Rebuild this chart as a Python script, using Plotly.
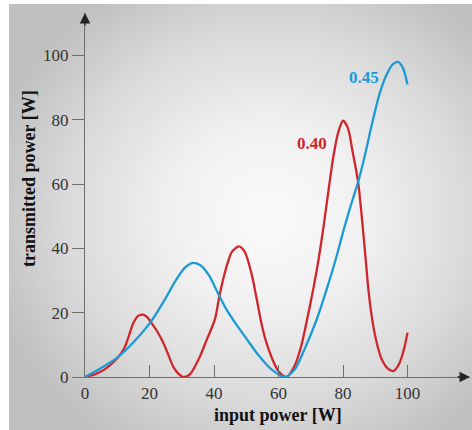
import base64
import plotly.graph_objects as go

# ---- data ----
red_label = "0.40"
red_x = [0, 3, 6, 9, 12, 13.5, 15, 16.5, 17.9, 19.3, 20.5, 22.5, 24.2, 26, 27.3, 28.8, 30.4,
         32.5, 35.6, 37.5, 40.3, 41.5, 43, 44.2, 45.6, 47.7, 49.5, 51.6, 53, 54.7, 56, 57.8, 60, 62.5,
         65, 67, 69, 71, 72.5, 74, 75.5, 77, 78.5, 80, 81.5, 83, 84.7, 86, 87, 88, 89.2,
         90.5, 92, 94, 95.7, 97.5, 99, 100]
red_y = [0, 0.8, 2.3, 4.8, 8.6, 12.5, 16.8, 19.0, 19.4, 18.6, 17.0, 14.0, 10.8, 6.5, 3.3, 1.2, 0,
         0.8, 6.3, 11.0, 18.0, 24.3, 31.0, 35.4, 39.0, 40.6, 39.0, 32.3, 25.5, 16.7, 11.5, 6.3, 1.8, 0,
         3.5, 9.5, 18.5, 28.5, 37.0, 47.0, 58.0, 68.5, 76.0, 79.7, 77.5, 70.0, 60.5, 48.0, 37.0, 26.0, 17.0,
         10.5, 5.5, 2.5, 1.9, 4.3, 9.0, 13.8]

blue_label = "0.45"
blue_x = [0, 5, 10, 15, 20.5, 25, 28, 31, 33.5, 36, 38.5, 41.5, 44, 47, 50, 54, 58, 62,
          65, 68, 71.7, 75, 78, 80, 82, 84.7, 86.8, 88.8, 91.4, 93.5, 95.5, 97, 98.5, 100]
blue_y = [0, 2.8, 6.0, 10.8, 17.3, 24.5, 29.8, 34.0, 35.5, 34.6, 31.5, 25.5, 20.8, 16.2, 12.0, 6.5, 2.2, 0,
          2.3, 8.5, 17.5, 27.5, 37.5, 45.0, 52.0, 60.7, 69.0, 77.9, 88.3, 94.0, 97.3, 98.0, 96.3, 91.0]

x_ticks = [0, 20, 40, 60, 80, 100]
y_ticks = [0, 20, 40, 60, 80, 100]
x_title = "input power [W]"
y_title = "transmitted power [W]"

RED = "#cf262c"
BLUE = "#1b9ad6"
SERIF = "Liberation Serif"

W, H = 472, 430
ML, MR, MT, MB = 85, 2, 13, 53
pw, ph = W - ML - MR, H - MT - MB
xmax = pw / 3.225
ymax = ph / 3.215

# radial gradient background panel as an SVG image
svg = (
    '<svg xmlns="http://www.w3.org/2000/svg" width="463" height="426" viewBox="0 0 463 426" preserveAspectRatio="none">'
    '<defs><radialGradient id="g" cx="0.56" cy="0.5" r="0.62" fx="0.56" fy="0.5">'
    '<stop offset="0" stop-color="#fbfbfb"/>'
    '<stop offset="0.35" stop-color="#f0f0f0"/>'
    '<stop offset="0.7" stop-color="#dadada"/>'
    '<stop offset="1" stop-color="#c0c0c0"/>'
    '</radialGradient></defs>'
    '<rect x="0" y="0" width="463" height="426" fill="url(#g)"/></svg>'
)
src = "data:image/svg+xml;base64," + base64.b64encode(svg.encode()).decode()

fig = go.Figure()
fig.add_trace(go.Scatter(x=red_x, y=red_y, mode="lines", name=red_label,
                         line=dict(color=RED, width=2.3, shape="spline", smoothing=0.8)))
fig.add_trace(go.Scatter(x=blue_x, y=blue_y, mode="lines", name=blue_label,
                         line=dict(color=BLUE, width=2.3, shape="spline", smoothing=0.8)))

# panel image position in paper coords
px0, py0, pwid, phei = 9, 4, 463, 426
fig.add_layout_image(dict(
    source=src, xref="paper", yref="paper",
    x=(px0 - ML) / pw, y=(H - MB - py0) / ph,
    sizex=pwid / pw, sizey=phei / ph,
    xanchor="left", yanchor="top", sizing="stretch", layer="below"))

axis_col = "#6e6e6e"
fig.update_layout(
    width=W, height=H,
    margin=dict(l=ML, r=MR, t=MT, b=MB),
    paper_bgcolor="white", plot_bgcolor="rgba(0,0,0,0)",
    showlegend=False,
    font=dict(family=SERIF, size=17, color="#333333"),
    xaxis=dict(range=[0, xmax], tickvals=x_ticks, ticks="inside", ticklen=12, tickwidth=1.2,
               tickcolor=axis_col, showline=True, linecolor=axis_col, linewidth=1.4, automargin=False,
               showgrid=False, zeroline=False, tickfont=dict(family=SERIF, size=17, color="#333")),
    yaxis=dict(range=[0, ymax], tickvals=y_ticks, ticks="outside", ticklen=12, tickwidth=1.2,
               tickcolor=axis_col, showline=True, linecolor=axis_col, linewidth=1.4, automargin=False,
               showgrid=False, zeroline=False, tickfont=dict(family=SERIF, size=17, color="#333")),
    annotations=[
        dict(x=xmax, y=0, xref="x", yref="y", ax=-14, ay=0, text="", showarrow=True,
             arrowhead=2, arrowsize=1.5, arrowwidth=1.4, arrowcolor="#222"),
        dict(x=0, y=ymax, xref="x", yref="y", ax=0, ay=14, text="", showarrow=True,
             arrowhead=2, arrowsize=1.5, arrowwidth=1.4, arrowcolor="#222"),
        dict(x=(278 - ML) / pw, y=-(415 - (H - MB)) / ph, xref="paper", yref="paper",
             xanchor="center", yanchor="middle",
             text="<b>" + x_title + "</b>", showarrow=False,
             font=dict(family=SERIF, size=18, color="#111")),
        dict(x=(29 - ML) / pw, y=((H - MB) - 179) / ph, xref="paper", yref="paper",
             xanchor="center", yanchor="middle",
             text="<b>" + y_title + "</b>",
             showarrow=False, textangle=-90, font=dict(family=SERIF, size=18, color="#111")),
        dict(x=86.6, y=93.3, xref="x", yref="y", text="<b>" + blue_label + "</b>", showarrow=False,
             font=dict(family=SERIF, size=17, color=BLUE)),
        dict(x=70.3, y=72.6, xref="x", yref="y", text="<b>" + red_label + "</b>", showarrow=False,
             font=dict(family=SERIF, size=17, color=RED)),
    ],
)

fig.write_html("out.html", config={"displayModeBar": False},
               post_script="document.body.style.margin='0px';document.body.style.overflow='hidden';")
